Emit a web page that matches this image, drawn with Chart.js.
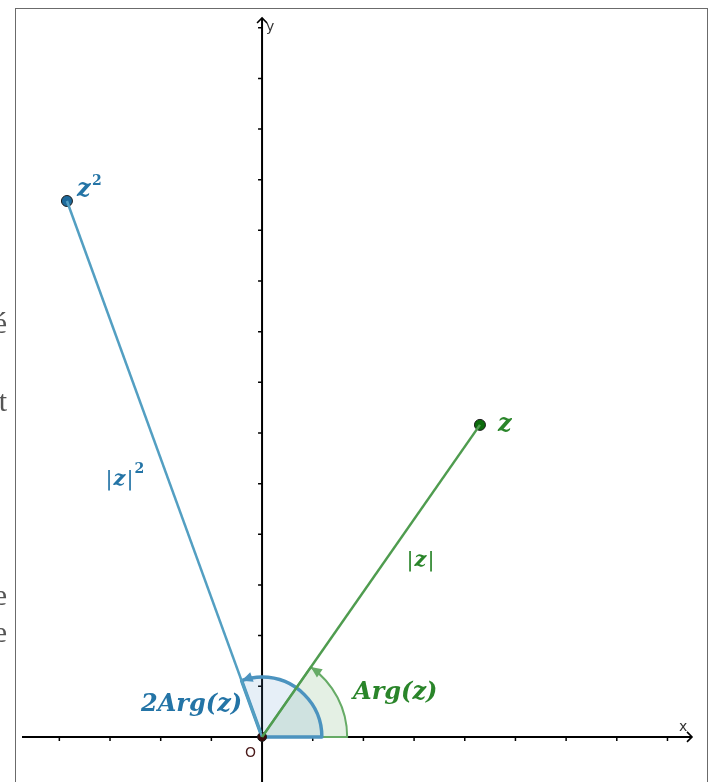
<!DOCTYPE html>
<html>
<head>
<meta charset="utf-8">
<script src="https://cdn.jsdelivr.net/npm/chart.js@4.4.1/dist/chart.umd.min.js"></script>
<style>
  html, body { margin: 0; padding: 0; background: #fff; overflow: hidden; }
  #wrap { position: relative; width: 712px; height: 782px; }
  .clip { position: absolute; width: 40px; text-align: right; left: -33px;
          font-family: "Liberation Serif", serif; font-size: 30px; color: #555; }
</style>
</head>
<body>
<div id="wrap">
  <canvas id="plane" width="712" height="782"></canvas>
  <div class="clip" style="top:306px">é</div>
  <div class="clip" style="top:384px">t</div>
  <div class="clip" style="top:578px">e</div>
  <div class="clip" style="top:615px">e</div>
</div>
<script>
// values in tick units (one tick = one unit on screen)
const origin = [0, 0];
const zPoint = [4.30, 6.16];
const z2Point = [-3.85, 10.58];
const xRange = [-4.875, 8.78];
const yRange = [-0.89, 14.39];
const argRadius = 1.68;
const arg2Radius = 1.18;

const green = '#4f9c4f';
const greenDark = '#2a852a';
const blue = '#539fc2';
const blueDark = '#2474a6';

// draws "|z|" followed by an optional superscript
function modulus(ctx, x, y, color, power) {
  ctx.fillStyle = color;
  ctx.font = '21px "DejaVu Serif", serif';
  ctx.fillText('|', x, y);
  let w = ctx.measureText('|').width;
  ctx.font = 'bold italic 21px "DejaVu Serif", serif';
  ctx.fillText('z', x + w + 1, y);
  w += ctx.measureText('z').width + 2;
  ctx.font = '21px "DejaVu Serif", serif';
  ctx.fillText('|', x + w, y);
  w += ctx.measureText('|').width;
  if (power) {
    ctx.font = 'bold 14px "DejaVu Serif", serif';
    ctx.fillText(power, x + w + 1, y - 10);
  }
}

// axes with arrows and small ticks, plus the angle sectors
const axesPlugin = {
  id: 'axes',
  beforeDatasetsDraw(chart) {
    const ctx = chart.ctx;
    const xs = chart.scales.x, ys = chart.scales.y;
    const ox = xs.getPixelForValue(0), oy = ys.getPixelForValue(0);
    const area = chart.chartArea;

    // frame
    ctx.save();
    ctx.strokeStyle = '#6b6b6b';
    ctx.lineWidth = 1;
    ctx.strokeRect(area.left + 0.5, area.top + 0.5, area.right - area.left, area.bottom - area.top + 10);

    ctx.strokeStyle = '#000';
    ctx.lineWidth = 2;
    ctx.beginPath();
    ctx.moveTo(area.left + 7, oy);
    ctx.lineTo(area.right - 15, oy);
    ctx.moveTo(ox, area.bottom);
    ctx.lineTo(ox, area.top + 10);
    ctx.stroke();

    // arrow heads
    ctx.lineWidth = 1.6;
    ctx.beginPath();
    ctx.moveTo(area.right - 20, oy - 5);
    ctx.lineTo(area.right - 15, oy);
    ctx.lineTo(area.right - 20, oy + 5);
    ctx.moveTo(ox - 5, area.top + 15);
    ctx.lineTo(ox, area.top + 10);
    ctx.lineTo(ox + 5, area.top + 15);
    ctx.stroke();

    // ticks
    ctx.lineWidth = 1.5;
    ctx.beginPath();
    for (let i = Math.ceil(xRange[0]); i <= Math.floor(xRange[1]); i++) {
      if (i === 0) continue;
      const px = xs.getPixelForValue(i);
      if (px > area.right - 25) continue;
      ctx.moveTo(px, oy);
      ctx.lineTo(px, oy + 4);
    }
    for (let j = Math.ceil(yRange[0]); j <= Math.floor(yRange[1]); j++) {
      if (j === 0) continue;
      const py = ys.getPixelForValue(j);
      ctx.moveTo(ox, py);
      ctx.lineTo(ox - 4, py);
    }
    ctx.stroke();

    ctx.fillStyle = '#333';
    ctx.font = '14px "DejaVu Sans", sans-serif';
    ctx.textBaseline = 'middle';
    ctx.fillText('y', ox + 4, area.top + 19);
    ctx.fillText('x', area.right - 28, oy - 10);
    ctx.fillStyle = '#4a1a1a';
    ctx.fillText('O', ox - 17, oy + 16);
    ctx.restore();

    const drawSector = (r, ang, fill, stroke, lw) => {
      const rp = xs.getPixelForValue(r) - ox;
      ctx.save();
      ctx.beginPath();
      ctx.moveTo(ox, oy);
      ctx.arc(ox, oy, rp, 0, -ang, true);
      ctx.closePath();
      ctx.fillStyle = fill;
      ctx.fill();
      ctx.strokeStyle = stroke;
      ctx.lineWidth = lw;
      ctx.lineJoin = 'round';
      ctx.stroke();
      // arrow head at the end of the arc
      const ex = ox + rp * Math.cos(ang), ey = oy - rp * Math.sin(ang);
      const tx = -Math.sin(ang), ty = -Math.cos(ang);
      const nx = Math.cos(ang), ny = -Math.sin(ang);
      ctx.beginPath();
      ctx.moveTo(ex, ey);
      ctx.lineTo(ex - tx * 11 + nx * 5, ey - ty * 11 + ny * 5);
      ctx.lineTo(ex - tx * 11 - nx * 5, ey - ty * 11 - ny * 5);
      ctx.closePath();
      ctx.fillStyle = stroke;
      ctx.fill();
      ctx.restore();
    };
    const a1 = Math.atan2(zPoint[1], zPoint[0]);
    const a2 = Math.atan2(z2Point[1], z2Point[0]);
    drawSector(argRadius, a1, 'rgba(90,160,90,0.16)', '#66ab66', 2);
    drawSector(arg2Radius, a2, 'rgba(80,145,195,0.14)', '#4b93bf', 3.5);
  },
  afterDatasetsDraw(chart) {
    const ctx = chart.ctx;
    const xs = chart.scales.x, ys = chart.scales.y;
    const ox = xs.getPixelForValue(0), oy = ys.getPixelForValue(0);
    const zx = xs.getPixelForValue(zPoint[0]), zy = ys.getPixelForValue(zPoint[1]);
    const wx = xs.getPixelForValue(z2Point[0]), wy = ys.getPixelForValue(z2Point[1]);
    const bold = 'bold italic 24px "DejaVu Serif", serif';
    const sup = 'bold 14px "DejaVu Serif", serif';
    ctx.save();
    ctx.textBaseline = 'middle';

    ctx.fillStyle = greenDark;
    ctx.font = bold;
    ctx.fillText('z', zx + 18, zy);
    ctx.fillText('Arg(z)', ox + 91, oy - 44);
    modulus(ctx, ox + 0.41 * (zx - ox) + 55, oy + 0.58 * (zy - oy) + 5, greenDark, '');

    ctx.fillStyle = blueDark;
    ctx.font = bold;
    ctx.fillText('z', wx + 10, wy - 11);
    ctx.fillText('2Arg(z)', ox - 121, oy - 32);
    ctx.font = sup;
    ctx.fillText('2', wx + 25, wy - 20);
    modulus(ctx, ox + 0.48 * (wx - ox) - 63, oy + 0.48 * (wy - oy), blueDark, '2');
    ctx.restore();
  }
};

new Chart(document.getElementById('plane'), {
  type: 'scatter',
  data: {
    datasets: [
      {
        data: [{ x: origin[0], y: origin[1] }, { x: zPoint[0], y: zPoint[1] }],
        showLine: true,
        borderColor: green,
        borderWidth: 2.5,
        pointRadius: 0
      },
      {
        data: [{ x: origin[0], y: origin[1] }, { x: z2Point[0], y: z2Point[1] }],
        showLine: true,
        borderColor: blue,
        borderWidth: 2.5,
        pointRadius: 0
      },
      {
        data: [{ x: zPoint[0], y: zPoint[1] }],
        pointRadius: 5.5,
        backgroundColor: '#0b6b0b',
        borderColor: '#1b1b1b',
        borderWidth: 1
      },
      {
        data: [{ x: z2Point[0], y: z2Point[1] }],
        pointRadius: 5.5,
        backgroundColor: '#1d6a9c',
        borderColor: '#1b1b1b',
        borderWidth: 1
      },
      {
        data: [{ x: origin[0], y: origin[1] }],
        pointRadius: 4.5,
        backgroundColor: '#3a0a0a',
        borderColor: '#1b1b1b',
        borderWidth: 1
      }
    ]
  },
  options: {
    responsive: false,
    animation: false,
    devicePixelRatio: 1,
    layout: { autoPadding: false, padding: { left: 15, top: 8, right: 5, bottom: 0 } },
    plugins: { legend: { display: false }, tooltip: { enabled: false } },
    scales: {
      x: { type: 'linear', min: xRange[0], max: xRange[1], display: false },
      y: { type: 'linear', min: yRange[0], max: yRange[1], display: false }
    }
  },
  plugins: [axesPlugin]
});
</script>
</body>
</html>
